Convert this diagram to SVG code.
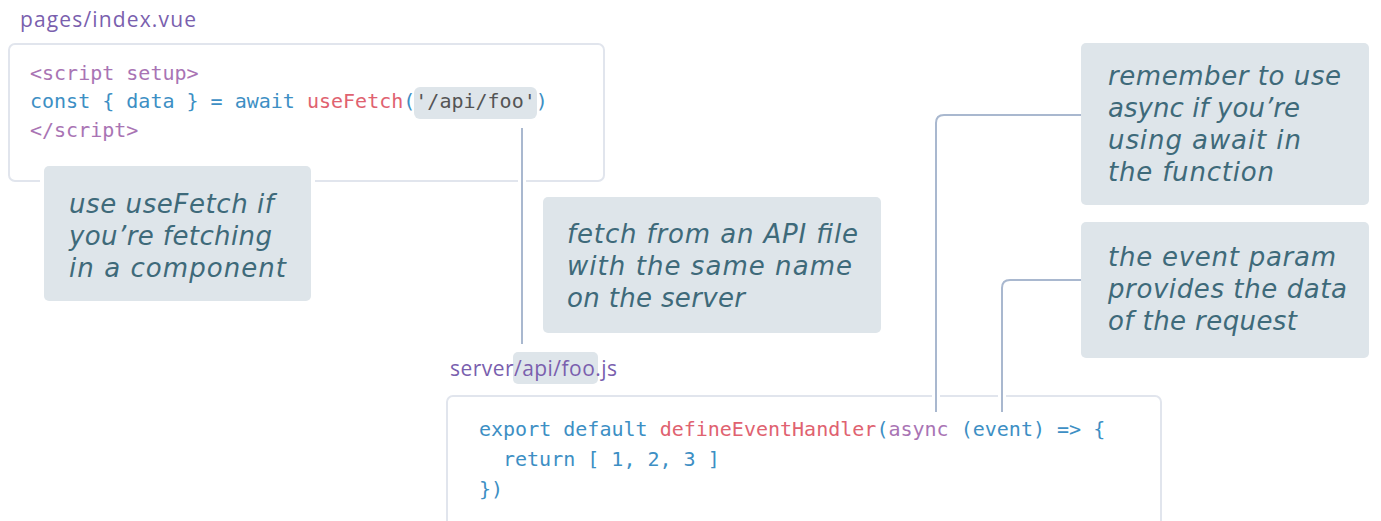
<svg xmlns="http://www.w3.org/2000/svg" width="1381" height="521" viewBox="0 0 1381 521">
<style>
.box{fill:#ffffff;stroke:#e1e5ed;stroke-width:2}
.note{fill:#dee5ea}
.halo{fill:none;stroke:#ffffff;stroke-width:8}
.conn{fill:none;stroke:#a9b8cf;stroke-width:2}
.hl{fill:#dee5ea}
.file{font-family:"Open Sans","Liberation Sans",sans-serif;font-size:21px;fill:#7a5fae}
.code{font-family:"DejaVu Sans Mono","Liberation Mono",monospace;font-size:20px}
.tag{fill:#a974b4}
.kw{fill:#3d8fc4}
.fn{fill:#e06270}
.str{fill:#545454}
.nt{font-family:"DejaVu Sans","Open Sans",sans-serif;font-style:italic;font-size:26px;fill:#3e6a7a}
</style>
<rect width="1381" height="521" fill="#ffffff"/>

<g id="index-file">
<text class="file" x="20" y="27" textLength="176" lengthAdjust="spacing">pages/index.vue</text>
<rect class="box" x="9" y="44" width="595" height="137" rx="6"/>
<rect class="hl" x="414" y="87" width="123" height="32" rx="6"/>
<text class="code" x="30" y="80"><tspan class="tag">&lt;script setup&gt;</tspan></text>
<text class="code" x="30" y="108" xml:space="preserve"><tspan class="kw">const { data } = await </tspan><tspan class="fn">useFetch</tspan><tspan class="kw">(</tspan><tspan class="str">'/api/foo'</tspan><tspan class="kw">)</tspan></text>
<text class="code" x="30" y="137"><tspan class="tag">&lt;/script&gt;</tspan></text>
</g>

<g id="server-file">
<rect class="hl" x="513" y="352" width="85" height="32" rx="5"/>
<text class="file" x="450" y="376" textLength="167" lengthAdjust="spacing">server/api/foo.js</text>
<rect class="box" x="447" y="396" width="714" height="140" rx="6"/>
<text class="code" x="479" y="436" xml:space="preserve"><tspan class="kw">export default </tspan><tspan class="fn">defineEventHandler</tspan><tspan class="kw">(</tspan><tspan class="tag">async</tspan><tspan class="kw"> (event) =&gt; {</tspan></text>
<text class="code" x="503" y="466"><tspan class="kw">return [ 1, 2, 3 ]</tspan></text>
<text class="code" x="479" y="496"><tspan class="kw">})</tspan></text>
</g>

<g id="connectors">
<path class="halo" d="M522,128 V344"/>
<path class="conn" d="M522,128 V344"/>
<path class="halo" d="M1081,115 H944 Q936,115 936,123 V412"/>
<path class="conn" d="M1081,115 H944 Q936,115 936,123 V412"/>
<path class="halo" d="M1081,280 H1010 Q1002,280 1002,288 V412"/>
<path class="conn" d="M1081,280 H1010 Q1002,280 1002,288 V412"/>
</g>

<g id="note-usefetch">
<rect x="44" y="166" width="267" height="135" rx="5" fill="none" stroke="#ffffff" stroke-width="8"/>
<rect class="note" x="44" y="166" width="267" height="135" rx="5"/>
<text class="nt" x="69" y="213" textLength="205" lengthAdjust="spacing">use useFetch if</text>
<text class="nt" x="69" y="245" textLength="203" lengthAdjust="spacing">you’re fetching</text>
<text class="nt" x="69" y="277" textLength="217" lengthAdjust="spacing">in a component</text>
</g>

<g id="note-api">
<rect class="note" x="543" y="197" width="338" height="136" rx="5"/>
<text class="nt" x="567" y="243" textLength="291" lengthAdjust="spacing">fetch from an API file</text>
<text class="nt" x="567" y="275" textLength="285" lengthAdjust="spacing">with the same name</text>
<text class="nt" x="567" y="307" textLength="178" lengthAdjust="spacing">on the server</text>
</g>

<g id="note-async">
<rect class="note" x="1081" y="43" width="288" height="162" rx="5"/>
<text class="nt" x="1108" y="85" textLength="233" lengthAdjust="spacing">remember to use</text>
<text class="nt" x="1108" y="117" textLength="192" lengthAdjust="spacing">async if you’re</text>
<text class="nt" x="1108" y="149" textLength="193" lengthAdjust="spacing">using await in</text>
<text class="nt" x="1108" y="181" textLength="166" lengthAdjust="spacing">the function</text>
</g>

<g id="note-event">
<rect class="note" x="1081" y="222" width="288" height="136" rx="5"/>
<text class="nt" x="1108" y="266" textLength="228" lengthAdjust="spacing">the event param</text>
<text class="nt" x="1108" y="298" textLength="239" lengthAdjust="spacing">provides the data</text>
<text class="nt" x="1108" y="330" textLength="189" lengthAdjust="spacing">of the request</text>
</g>
</svg>
